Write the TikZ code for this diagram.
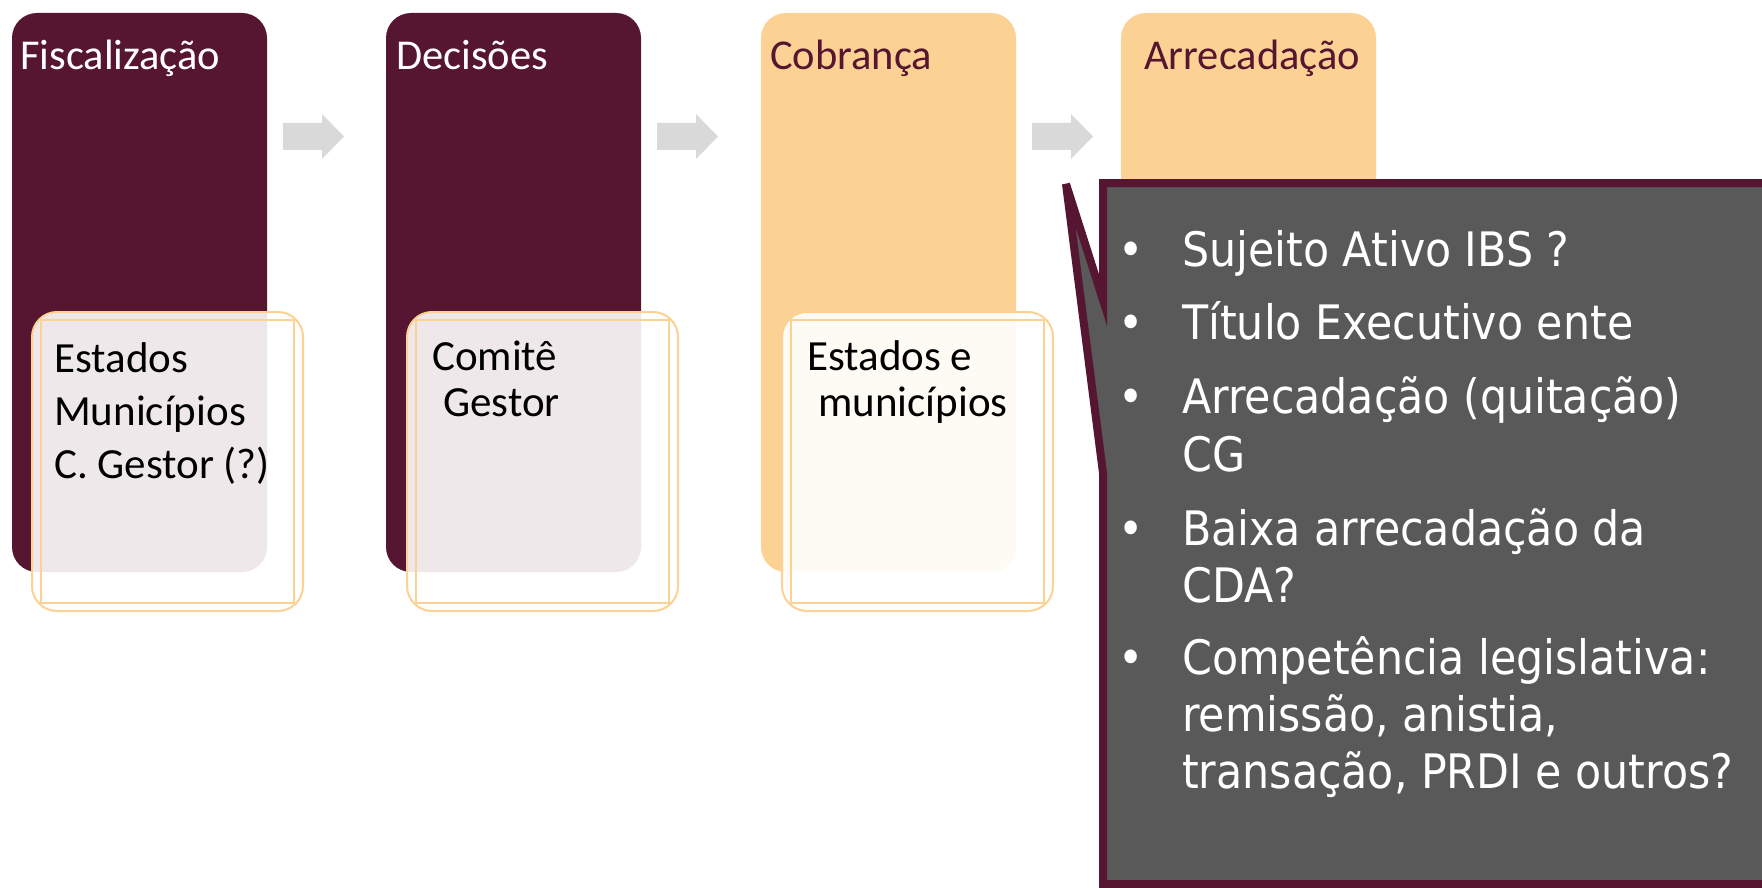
\documentclass[tikz,border=0pt]{standalone}
\usepackage{fontspec}
\setmainfont{Carlito}
\newfontfamily\calloutfont{DejaVu Sans Condensed}
\definecolor{maroon}{RGB}{86,21,48}
\definecolor{peach}{RGB}{252,210,148}
\definecolor{arrowgray}{RGB}{217,217,217}
\definecolor{calloutgray}{RGB}{89,89,89}
\begin{document}
\begin{tikzpicture}[x=1pt,y=-1pt,
  stage/.style={rectangle, rounded corners=25pt, minimum width=255pt, minimum height=559pt, inner sep=0pt, outer sep=0pt, anchor=north west},
  darkstage/.style={stage, fill=maroon},
  lightstage/.style={stage, fill=peach},
  stagetitle/.style={anchor=base west, inner sep=0pt, font=\fontsize{42.5}{50}\selectfont},
  panel/.style={rectangle, rounded corners=25pt, minimum width=271pt, minimum height=299pt, inner sep=0pt, outer sep=0pt, anchor=north west, fill=white, fill opacity=0.9, draw=peach, line width=2pt},
  frameline/.style={draw=peach, line width=2pt},
  paneltext/.style={anchor=base west, inner sep=0pt, font=\fontsize{43}{52}\selectfont, text=black},
  blockarrow/.style={fill=arrowgray},
  callout/.style={fill=calloutgray, draw=maroon, line width=8pt},
  bulletmark/.style={anchor=base, inner sep=0pt, text=white, font=\calloutfont\fontsize{47.5}{57.5}\selectfont},
  bullettext/.style={anchor=base west, inner sep=0pt, text=white, font=\calloutfont\fontsize{47.5}{57.5}\selectfont},
]
\useasboundingbox (0,0) rectangle (1762,888);
\clip (0,0) rectangle (1762,888);

% stages
\node[darkstage] (s1) at (12,13) {};
\node[darkstage] (s2) at (386,13) {};
\node[lightstage] (s3) at (761,13) {};
\node[lightstage] (s4) at (1121,13) {};

% titles
\node[stagetitle, text=white] (t1) at (20,70) {Fiscalização};
\node[stagetitle, text=white] (t2) at (396,70) {Decisões};
\node[stagetitle, text=maroon] (t3) at (770,70) {Cobrança};
\node[stagetitle, text=maroon] (t4) at (1144,70) {Arrecadação};

% block arrows
\foreach \ax in {283,657,1032}{
  \fill[blockarrow] (\ax,123) -- (\ax+39,123) -- (\ax+39,114) -- (\ax+61,136.5)
     -- (\ax+39,159) -- (\ax+39,150) -- (\ax,150) -- cycle;
}

% panels
\node[panel] (p1) at (32,312) {};
\node[panel] (p2) at (407,312) {};
\node[panel] (p3) at (782,312) {};
\foreach \p in {p1,p2,p3}{
  \draw[frameline] ([shift={(9,8)}]\p.north west) rectangle ([shift={(-9,-8)}]\p.south east);
}

% panel texts
\node[paneltext] (a1) at (54,372) {Estados};
\node[paneltext] (a2) at (54,425) {Municípios};
\node[paneltext] (a3) at (54,478) {C. Gestor (?)};
\node[paneltext] (b1) at (432,370) {Comitê};
\node[paneltext] (b2) at (443,416) {Gestor};
\node[paneltext] (c1) at (807,370) {Estados e};
\node[paneltext] (c2) at (818,416) {municípios};

% callout
\path[callout] (1103,300) -- (1066,184) -- (1103,473) -- (1103,884) -- (1800,884)
   -- (1800,183) -- (1103,183) -- cycle;

% callout bullets
\foreach \by/\nm in {266/m1,339/m2,413/m3,545/m4,674/m5}{
  \node[bulletmark] (\nm) at (1131,\by) {•};
}
\node[bullettext] (l1) at (1182,266) {Sujeito Ativo IBS ?};
\node[bullettext] (l2) at (1182,339) {Título Executivo ente};
\node[bullettext] (l3) at (1182,413) {Arrecadação (quitação)};
\node[bullettext] (l4) at (1182,471) {CG};
\node[bullettext] (l5) at (1182,545) {Baixa arrecadação da};
\node[bullettext] (l6) at (1182,602) {CDA?};
\node[bullettext] (l7) at (1182,674) {Competência legislativa:};
\node[bullettext] (l8) at (1182,731) {remissão, anistia,};
\node[bullettext] (l9) at (1182,788) {transação, PRDI e outros?};
\end{tikzpicture}
\end{document}
